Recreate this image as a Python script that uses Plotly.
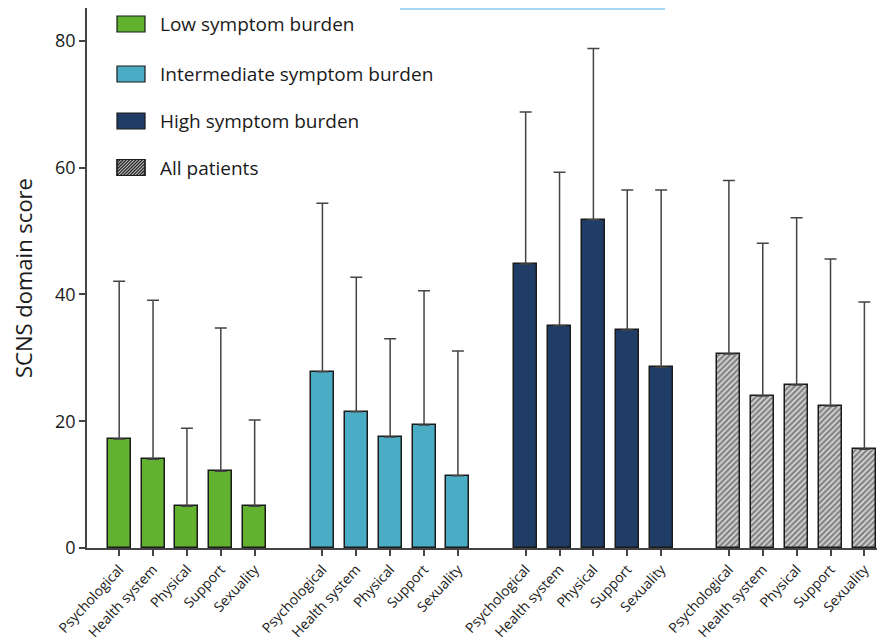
import plotly.graph_objects as go

domains = ["Psychological", "Health system", "Physical", "Support", "Sexuality"]
groups = ["Low symptom burden", "Intermediate symptom burden", "High symptom burden", "All patients"]

low_mean = [17.2, 14.0, 6.6, 12.1, 6.6]
low_sd = [24.9, 25.1, 12.3, 22.6, 13.6]
int_mean = [27.8, 21.5, 17.5, 19.4, 11.4]
int_sd = [26.6, 21.2, 15.5, 21.2, 19.7]
high_mean = [44.8, 35.1, 51.8, 34.4, 28.5]
high_sd = [24.0, 24.2, 27.0, 22.1, 28.0]
all_mean = [30.6, 24.0, 25.7, 22.4, 15.6]
all_sd = [27.4, 24.1, 26.4, 23.2, 23.2]

y_ticks = [0, 20, 40, 60, 80]

means = [low_mean, int_mean, high_mean, all_mean]
sds = [low_sd, int_sd, high_sd, all_sd]
colors = ["#62b22f", "#4bacc6", "#1f3d66", "#dcdcdc"]

FONT = "Open Sans"
# page body has an 8px margin: figure is drawn from (8, 8) in the window
OFF = 8
FIG_W, FIG_H = 885 - OFF, 640 - OFF
ML, MR, MT, MB = 87 - OFF, 3, 8 - OFF, 92

fig = go.Figure()
xs_all, tt_all = [], []
for g, (name, m, s, c) in enumerate(zip(groups, means, sds, colors)):
    xs = [g * 6 + i for i in range(len(domains))]
    xs_all += xs
    tt_all += domains
    marker = dict(color=c, line=dict(color="#1a1a1a", width=1.5))
    if g == 3:
        marker["pattern"] = dict(shape="/", fgcolor="#2a2a2a", bgcolor="#dcdcdc",
                                 size=4, solidity=0.6)
    fig.add_trace(go.Bar(
        x=xs, y=m, name=name, width=0.68, marker=marker, showlegend=False,
        error_y=dict(type="data", array=s, arrayminus=[0] * len(s), symmetric=False,
                     color="#444444", thickness=1.5, width=6),
    ))

# custom legend (swatches + labels), positions in window pixels
W, H, L, B = 795.0, 540.0, 87.0, 548.0
def px(x):
    return (x - L) / W
def py(y):
    return (B - y) / H
legend_rows = [24, 74, 121, 167.5]
shapes = []
annotations = []
for g, (name, c, yc) in enumerate(zip(groups, colors, legend_rows)):
    shapes.append(dict(type="rect", xref="paper", yref="paper",
                       x0=px(117), x1=px(145), y0=py(yc + 8), y1=py(yc - 8),
                       fillcolor=c, line=dict(color="#1a1a1a", width=1.2), layer="above"))
    annotations.append(dict(xref="paper", yref="paper", x=px(158), y=py(yc),
                            text=name, showarrow=False, xanchor="left", yanchor="middle",
                            font=dict(family=FONT, size=19, color="#1a1a1a")))
# hatch lines for the "All patients" swatch
x0s, x1s, y0s, y1s = 117, 145, 167.5 + 8, 167.5 - 8
step = 3.2
k = -16.0
while k < 28:
    xa, ya = x0s + k, y0s
    xb, yb = x0s + k + 16, y1s
    if xa < x0s:
        ya = y0s - (x0s - xa)
        xa = x0s
    if xb > x1s:
        yb = y1s + (xb - x1s)
        xb = x1s
    if xa < xb:
        shapes.append(dict(type="line", xref="paper", yref="paper",
                           x0=px(xa), y0=py(ya), x1=px(xb), y1=py(yb),
                           line=dict(color="#2a2a2a", width=1.5), layer="above"))
    k += step
shapes.append(dict(type="rect", xref="paper", yref="paper",
                   x0=px(117), x1=px(145), y0=py(175.5), y1=py(159.5),
                   fillcolor="rgba(0,0,0,0)", line=dict(color="#1a1a1a", width=1.2), layer="above"))
# stray light-blue line at the top of the image
shapes.append(dict(type="line", xref="paper", yref="paper",
                   x0=px(400), x1=px(665), y0=py(9), y1=py(9),
                   line=dict(color="#a9d5f5", width=2)))

fig.update_layout(
    width=FIG_W, height=FIG_H,
    margin=dict(l=ML, r=MR, t=MT, b=MB),
    paper_bgcolor="white", plot_bgcolor="white",
    font=dict(family=FONT, color="#1a1a1a"),
    shapes=shapes, annotations=annotations,
    bargap=0,
)
fig.update_xaxes(
    range=[-0.95, 22.52], tickmode="array", tickvals=xs_all, ticktext=tt_all,
    tickangle=-47, tickfont=dict(family=FONT, size=14, color="#1a1a1a"),
    showline=True, linecolor="#444444", linewidth=1.5,
    ticks="outside", ticklen=6, tickwidth=1.5, tickcolor="#444444",
    showgrid=False, zeroline=False, automargin=False,
)
fig.update_yaxes(
    range=[0, 85.2], tickmode="array", tickvals=y_ticks,
    tickfont=dict(family=FONT, size=18, color="#1a1a1a"),
    title=dict(text="SCNS domain score", font=dict(family=FONT, size=22, color="#1a1a1a"), standoff=16),
    showline=True, linecolor="#444444", linewidth=1.5,
    ticks="outside", ticklen=6, tickwidth=1.5, tickcolor="#444444",
    showgrid=False, zeroline=False, automargin=False,
)
fig.write_html("out.html")
